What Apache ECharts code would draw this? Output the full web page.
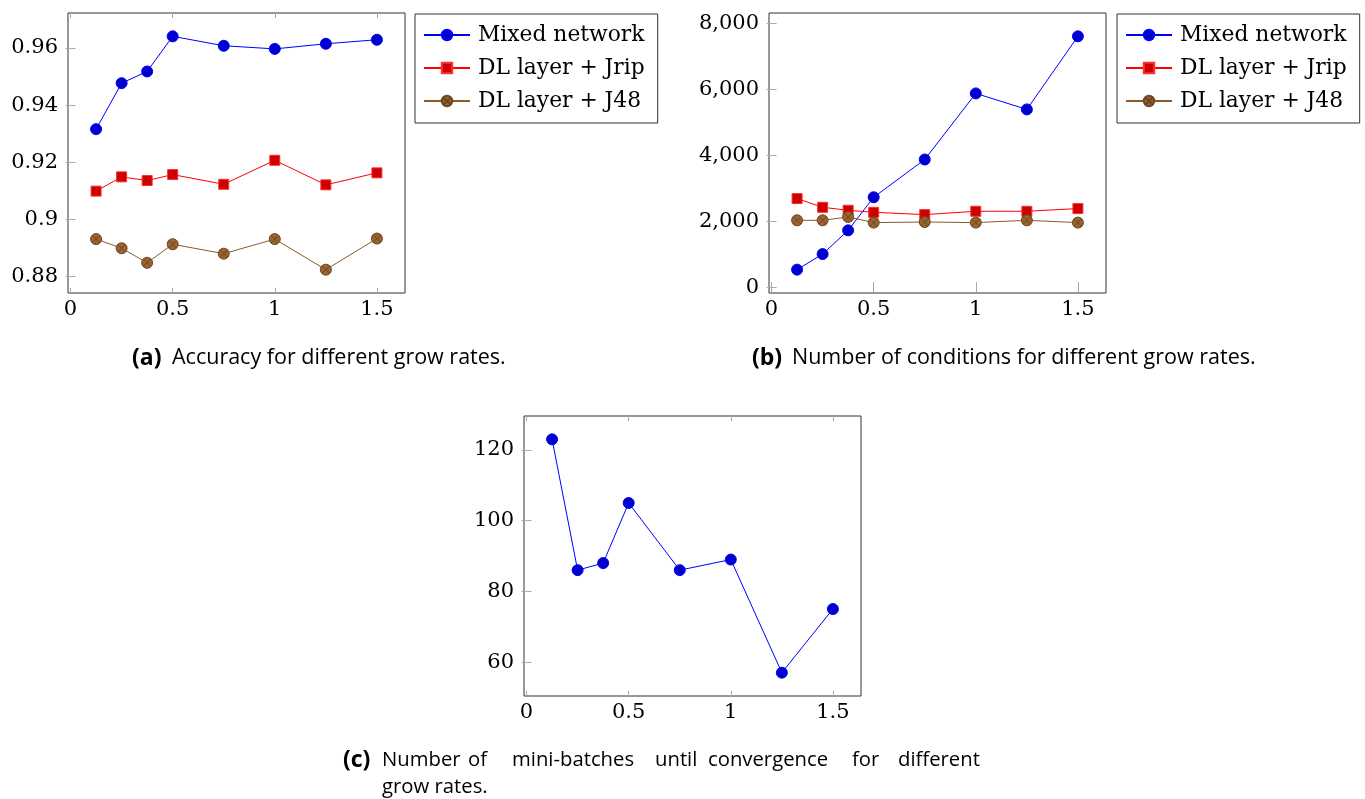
<!DOCTYPE html>
<html><head><meta charset="utf-8">
<script src="https://cdn.jsdelivr.net/npm/echarts@6/dist/echarts.min.js"></script>
<style>html,body{margin:0;padding:0;background:#fff}#c{width:1365px;height:799px}</style>
</head><body><div id="c"></div>
<script>
// ---- data ----
const growRates = [0.125, 0.25, 0.375, 0.5, 0.75, 1, 1.25, 1.5];
const accMixed = [0.9316, 0.9477, 0.9518, 0.9641, 0.9608, 0.9597, 0.9615, 0.9629];
const accJrip  = [0.9099, 0.9149, 0.9136, 0.9157, 0.9123, 0.9207, 0.9121, 0.9163];
const accJ48   = [0.8931, 0.8899, 0.8848, 0.8913, 0.8880, 0.8931, 0.8824, 0.8933];
const condMixed = [529, 1003, 1722, 2725, 3870, 5875, 5389, 7606];
const condJrip  = [2685, 2421, 2330, 2269, 2199, 2300, 2300, 2382];
const condJ48   = [2026, 2026, 2127, 1956, 1975, 1956, 2026, 1956];
const batchesMixed = [123, 86, 88, 105, 86, 89, 57, 75];
const xTicks = [0, 0.5, 1, 1.5];
const accTicks = [0.88, 0.9, 0.92, 0.94, 0.96];
const condTicks = [0, 2000, 4000, 6000, 8000];
const batchTicks = [60, 80, 100, 120];
const seriesNames = ['Mixed network', 'DL layer + Jrip', 'DL layer + J48'];
const captionA = ['(a)', 'Accuracy for different grow rates.'];
const captionB = ['(b)', 'Number of conditions for different grow rates.'];
const captionC1 = ['(c)', 'Number', 'of', 'mini-batches', 'until', 'convergence', 'for', 'different'];
const captionC2 = 'grow rates.';

// ---- helpers ----
function enlarged(arrs) {
  const all = [].concat(...arrs);
  const mn = Math.min(...all), mx = Math.max(...all), r = mx - mn;
  return [mn - 0.1 * r, mx + 0.1 * r];
}
const xr = enlarged([growRates]);
const TICK_FONT = 'DejaVu Serif';
const tickStyle = { show: true, inside: true, length: 5, lineStyle: { color: '#a8a8a8', width: 1 } };

const xAxes = [], yAxes = [];
function addAxes(gi, yr, yTicks, fmt) {
  xAxes.push({ type: 'value', gridIndex: gi, position: 'bottom', min: xr[0], max: xr[1],
    axisLine: { show: false }, splitLine: { show: false },
    axisTick: Object.assign({}, tickStyle, { customValues: xTicks }),
    axisLabel: { customValues: xTicks, margin: 6, fontFamily: TICK_FONT, fontSize: 21, color: '#000', formatter: v => String(v) } });
  xAxes.push({ type: 'value', gridIndex: gi, position: 'top', min: xr[0], max: xr[1],
    axisLine: { show: false }, splitLine: { show: false },
    axisTick: Object.assign({}, tickStyle, { customValues: xTicks }),
    axisLabel: { show: false } });
  yAxes.push({ type: 'value', gridIndex: gi, position: 'left', min: yr[0], max: yr[1],
    axisLine: { show: false }, splitLine: { show: false },
    axisTick: Object.assign({}, tickStyle, { customValues: yTicks }),
    axisLabel: { customValues: yTicks, margin: 10, fontFamily: TICK_FONT, fontSize: 21, color: '#000', formatter: fmt } });
  yAxes.push({ type: 'value', gridIndex: gi, position: 'right', min: yr[0], max: yr[1],
    axisLine: { show: false }, splitLine: { show: false },
    axisTick: Object.assign({}, tickStyle, { customValues: yTicks }),
    axisLabel: { show: false } });
}
addAxes(0, enlarged([accMixed, accJrip, accJ48]), accTicks, v => String(v));
addAxes(1, enlarged([condMixed, condJrip, condJ48]), condTicks, v => Number(v).toLocaleString('en-US'));
addAxes(2, enlarged([batchesMixed]), batchTicks, v => String(v));

const otimes = 'path://M0,-10A10,10,0,1,1,0,10A10,10,0,1,1,0,-10ZM-7.07,-7.07L7.07,7.07M-7.07,7.07L7.07,-7.07';
const looks = [
  { symbol: 'circle', size: 11, fill: '#0000CC', border: '#0000FF', line: '#0000FF' },
  { symbol: 'rect', size: 10, fill: '#CC0000', border: '#FF3030', line: '#FF0000' },
  { symbol: otimes, size: 11, fill: '#99642F', border: '#6B4520', line: '#8B5A2B' }
];
function mkSeries(name, vals, look, gi) {
  return { type: 'line', name: name, xAxisIndex: gi * 2, yAxisIndex: gi * 2,
    data: growRates.map((x, i) => [x, vals[i]]),
    symbol: look.symbol, symbolSize: look.size, showSymbol: true,
    lineStyle: { color: look.line, width: 1 },
    itemStyle: { color: look.fill, borderColor: look.border, borderWidth: 1 },
    emphasis: { disabled: true }, animation: false };
}
const series = [
  mkSeries(seriesNames[0], accMixed, looks[0], 0),
  mkSeries(seriesNames[1], accJrip, looks[1], 0),
  mkSeries(seriesNames[2], accJ48, looks[2], 0),
  mkSeries(seriesNames[0], condMixed, looks[0], 1),
  mkSeries(seriesNames[1], condJrip, looks[1], 1),
  mkSeries(seriesNames[2], condJ48, looks[2], 1),
  mkSeries(seriesNames[0], batchesMixed, looks[0], 2)
];

function legendAt(left) {
  return { data: seriesNames, orient: 'vertical', left: left, top: 14, selectedMode: false,
    itemWidth: 46, itemHeight: 13, itemGap: 9,
    padding: [9, 13, 10, 8], borderColor: '#333', borderWidth: 1,
    textStyle: { fontFamily: TICK_FONT, fontSize: 21.8, color: '#000', lineHeight: 24, padding: [0, 0, 0, 3] } };
}

const CAP_FONT = 'Open Sans';
function cap(text, x, y, bold, size) {
  return { type: 'text', x: x, y: y, silent: true,
    style: { text: text, fontFamily: CAP_FONT, fontSize: bold ? 23 : size, fontWeight: bold ? 'bold' : 'normal', fill: '#000', align: 'left', verticalAlign: 'middle' } };
}
const capC1X = [343, 382, 468, 512, 655, 708, 852, 898];
const graphics = [
  cap(captionA[0], 132, 358, true, 21.5), cap(captionA[1], 172, 358, false, 21.5),
  cap(captionB[0], 752, 358, true, 21.5), cap(captionB[1], 792, 358, false, 21.5),
  ...captionC1.map((w, i) => cap(w, capC1X[i], 760, i === 0, 20.3)),
  cap(captionC2, 382, 787, false, 20.3)
];

const chart = echarts.init(document.getElementById('c'), null, { renderer: 'canvas' });
chart.setOption({
  animation: false,
  backgroundColor: '#fff',
  grid: [
    { left: 68, top: 13, width: 337, height: 280, show: true, borderColor: '#333', borderWidth: 1, backgroundColor: 'transparent' },
    { left: 769, top: 13, width: 337, height: 280, show: true, borderColor: '#333', borderWidth: 1, backgroundColor: 'transparent' },
    { left: 524, top: 416, width: 337, height: 280, show: true, borderColor: '#333', borderWidth: 1, backgroundColor: 'transparent' }
  ],
  xAxis: xAxes,
  yAxis: yAxes,
  legend: [legendAt(415), legendAt(1117)],
  series: series,
  graphic: graphics
});
</script>
</body></html>
